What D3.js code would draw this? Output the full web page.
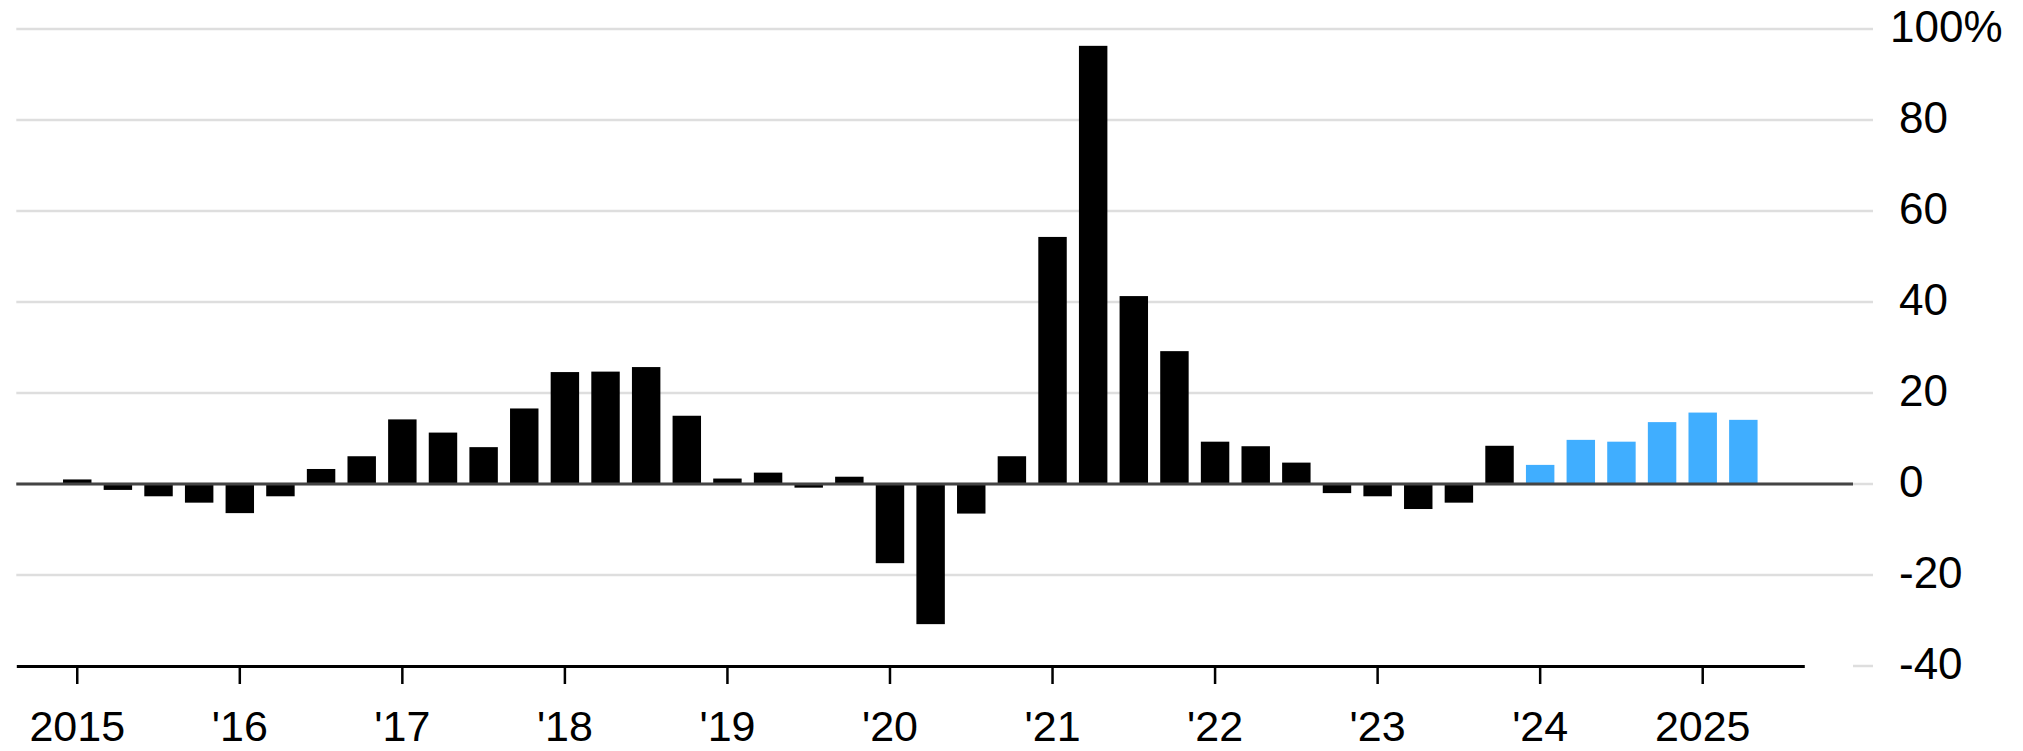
<!DOCTYPE html>
<html>
<head>
<meta charset="utf-8">
<script src="https://cdn.jsdelivr.net/npm/d3@7/dist/d3.min.js"></script>
<style>
  html, body { margin: 0; padding: 0; background: #fff; }
  svg { display: block; }
  text { font-family: "Liberation Sans", Arial, Helvetica, sans-serif; fill: #000; }
</style>
</head>
<body>
<svg id="chart" width="2023" height="751"></svg>
<script>
// Quarterly year-over-year change, %
const categories = [
  "2015 Q1","2015 Q2","2015 Q3","2015 Q4",
  "2016 Q1","2016 Q2","2016 Q3","2016 Q4",
  "2017 Q1","2017 Q2","2017 Q3","2017 Q4",
  "2018 Q1","2018 Q2","2018 Q3","2018 Q4",
  "2019 Q1","2019 Q2","2019 Q3","2019 Q4",
  "2020 Q1","2020 Q2","2020 Q3","2020 Q4",
  "2021 Q1","2021 Q2","2021 Q3","2021 Q4",
  "2022 Q1","2022 Q2","2022 Q3","2022 Q4",
  "2023 Q1","2023 Q2","2023 Q3","2023 Q4",
  "2024 Q1","2024 Q2","2024 Q3","2024 Q4",
  "2025 Q1","2025 Q2"
];

// Reported quarters (2015 Q1 – 2023 Q4)
const reported = [
  1.0, -1.3, -2.7, -4.1,
  -6.4, -2.7, 3.3, 6.1,
  14.2, 11.3, 8.1, 16.6,
  24.6, 24.7, 25.7, 15.0,
  1.2, 2.5, -0.8, 1.6,
  -17.4, -30.8, -6.5, 6.1,
  54.3, 96.3, 41.3, 29.2,
  9.3, 8.3, 4.7, -2.0,
  -2.7, -5.5, -4.1, 8.4
];

// Estimated quarters (2024 Q1 – 2025 Q2)
const estimated = [4.2, 9.7, 9.3, 13.6, 15.7, 14.1];

const yTicks = [-40, -20, 0, 20, 40, 60, 80, 100];
const xTickCategories = ["2015 Q1","2016 Q1","2017 Q1","2018 Q1","2019 Q1","2020 Q1","2021 Q1","2022 Q1","2023 Q1","2024 Q1","2025 Q1"];
const xTickLabels = ["2015","'16","'17","'18","'19","'20","'21","'22","'23","'24","2025"];

const rows = categories.map((c, i) => ({
  category: c,
  value: i < reported.length ? reported[i] : estimated[i - reported.length],
  estimate: i >= reported.length
}));

const svg = d3.select("#chart");

const plotLeft = 16.3, plotRight = 1804.3;
const gridRight = 1873, zeroRight = 1853;

const x = d3.scaleBand()
  .domain(categories)
  .range([plotLeft, plotRight])
  .paddingInner(0.3)
  .paddingOuter(1.15);

const y = d3.scaleLinear().domain([-40, 100]).range([666, 29]);

// Horizontal gridlines
svg.append("g").selectAll("line")
  .data(yTicks)
  .join("line")
  .attr("x1", d => d === -40 ? zeroRight : plotLeft)
  .attr("x2", gridRight)
  .attr("y1", d => y(d))
  .attr("y2", d => y(d))
  .attr("stroke", "#dedede")
  .attr("stroke-width", 2.5);

// Bars
svg.append("g").selectAll("rect")
  .data(rows)
  .join("rect")
  .attr("x", d => x(d.category))
  .attr("width", x.bandwidth())
  .attr("y", d => y(Math.max(0, d.value)))
  .attr("height", d => Math.abs(y(d.value) - y(0)))
  .attr("fill", d => d.estimate ? "#40aeff" : "#000");

// Zero baseline
svg.append("line")
  .attr("x1", plotLeft).attr("x2", zeroRight)
  .attr("y1", y(0)).attr("y2", y(0))
  .attr("stroke", "#444").attr("stroke-width", 3);

// Bottom time axis
const labelFor = d3.scaleOrdinal().domain(xTickCategories).range(xTickLabels);
const xAxis = svg.append("g")
  .attr("transform", `translate(0,${y(-40)})`)
  .call(d3.axisBottom(x)
    .tickValues(xTickCategories)
    .tickFormat(d => labelFor(d))
    .tickSizeOuter(0)
    .tickSizeInner(18)
    .tickPadding(20));
xAxis.select(".domain").attr("stroke", "#000").attr("stroke-width", 3);
xAxis.selectAll(".tick line").attr("stroke", "#000").attr("stroke-width", 2.5);
xAxis.selectAll(".tick text")
  .attr("font-size", 43)
  .attr("font-family", null)
  .attr("fill", "#000")
  .attr("dy", null)
  .attr("y", 75);

// Right value axis labels
const yAxis = svg.append("g")
  .attr("transform", `translate(1899,0)`)
  .call(d3.axisRight(y)
    .tickValues(yTicks)
    .tickFormat(d => d === 100 ? "100%" : String(d))
    .tickSize(0)
    .tickPadding(0));
yAxis.select(".domain").remove();
yAxis.selectAll(".tick text")
  .attr("font-size", 44)
  .attr("font-family", null)
  .attr("fill", "#000")
  .attr("text-anchor", "start")
  .attr("dy", "0.28em")
  .attr("x", d => d === 100 ? -9 : 0);
</script>
</body>
</html>
